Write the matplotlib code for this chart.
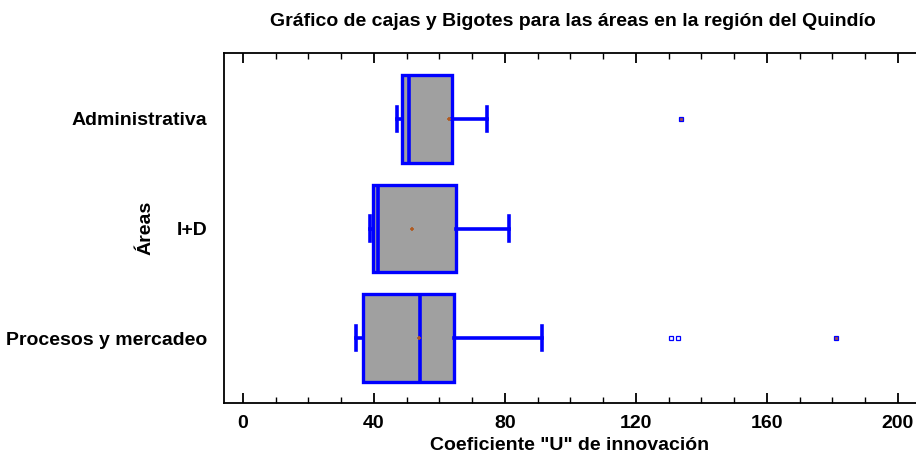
import matplotlib
matplotlib.use("Agg")
import matplotlib.pyplot as plt
from matplotlib.ticker import MultipleLocator

plt.rcParams['font.family'] = ['Liberation Sans', 'DejaVu Sans']

categories = ["Procesos y mercadeo", "I+D", "Administrativa"]
whislo = [34.5, 38.7, 47.0]
q1 = [36.6, 39.6, 48.5]
medians = [54.0, 41.2, 50.6]
q3 = [64.5, 65.0, 63.7]
whishi = [91.2, 81.2, 74.5]
means = [53.7, 51.5, 63.0]
near_outliers = [[130.8, 132.8], [], []]
far_outliers = [[181.0], [], [133.8]]

blue = "#0000ff"
fig = plt.figure(figsize=(9.16, 4.54), dpi=100)
ax = fig.add_axes([224/916, 1-403/454, 1-224/916, (403-53)/454])

stats = []
for i in range(len(categories)):
    stats.append(dict(label=categories[i], whislo=whislo[i], q1=q1[i], med=medians[i],
                      q3=q3[i], whishi=whishi[i], mean=means[i], fliers=[]))

ax.bxp(stats, positions=range(len(categories)), widths=0.8, orientation='horizontal',
       patch_artist=True, showmeans=False, showfliers=False,
       boxprops=dict(facecolor="#a0a0a0", edgecolor=blue, linewidth=2.4),
       medianprops=dict(color=blue, linewidth=2.6),
       whiskerprops=dict(color=blue, linewidth=2.6),
       capprops=dict(color=blue, linewidth=2.6), capwidths=0.22)

ax.plot(means, range(len(categories)), linestyle='none', marker='+', color="#b05a20",
        markersize=3, markeredgewidth=1.2, zorder=5)
for i in range(len(categories)):
    if near_outliers[i]:
        ax.plot(near_outliers[i], [i]*len(near_outliers[i]), linestyle='none', marker='s',
                markersize=3.5, markerfacecolor='white', markeredgecolor=blue,
                markeredgewidth=0.9, zorder=5)
    if far_outliers[i]:
        ax.plot(far_outliers[i], [i]*len(far_outliers[i]), linestyle='none', marker='s',
                markersize=3.5, markerfacecolor="#a05050", markeredgecolor=blue,
                markeredgewidth=0.9, zorder=5)

ax.set_xlim(-5.8, 205.5)
ax.set_ylim(-0.59, 2.6)
ax.set_yticks(range(len(categories)))
ax.set_yticklabels(categories, fontsize=14, fontweight='bold')
ax.set_xticks([0, 40, 80, 120, 160, 200])
ax.set_xticklabels(["0", "40", "80", "120", "160", "200"], fontsize=14, fontweight='bold')
ax.xaxis.set_minor_locator(MultipleLocator(10))
ax.tick_params(axis='x', which='major', direction='in', length=7, width=1.3, top=True, pad=9)
ax.tick_params(axis='x', which='minor', direction='in', length=4, width=1.0, top=True)
ax.tick_params(axis='y', length=0, pad=12)
for s in ax.spines.values():
    s.set_linewidth(1.3)
ax.spines['right'].set_visible(False)

ax.set_xlabel('Coeficiente "U" de innovación', fontsize=14, fontweight='bold', labelpad=3)
ax.set_ylabel('Áreas', fontsize=14, fontweight='bold')
ax.yaxis.set_label_coords((154-224)/692, 0.5)
fig.text(573/916, 1-22/454, "Gráfico de cajas y Bigotes para las áreas en la región del Quindío",
         ha='center', va='center', fontsize=14, fontweight='bold')

fig.savefig("out.png", dpi=100)
